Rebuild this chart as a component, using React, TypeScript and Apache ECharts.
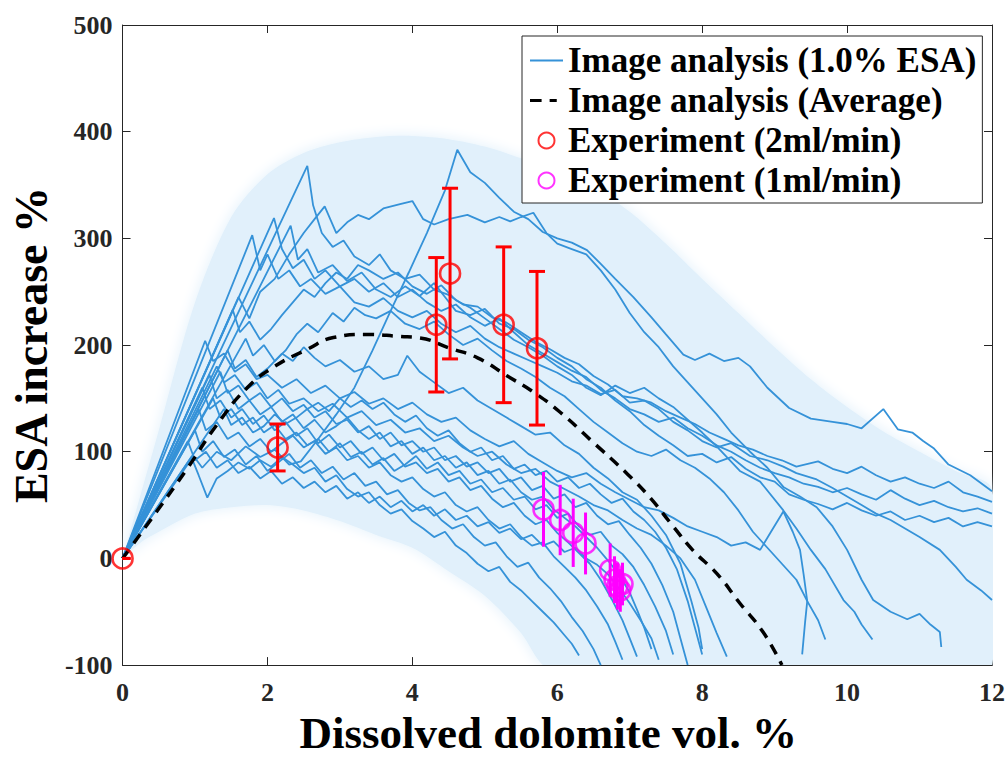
import React, { useEffect, useRef } from "react";
import * as echarts from "echarts";

const FONT = "'Liberation Serif', 'Times New Roman', serif";

// ---- Image analysis runs (1.0% ESA) : [dissolved vol %, ESA increase %]
const run01 = [[0,0],[0.98,96],[1.1,85],[1.3,100],[1.5,92],[1.7,105],[1.9,95],[2.1,102],[2.3,88],[2.46,91],[2.7,112],[2.95,135],[3.2,160],[3.45,195],[3.7,232],[3.95,268],[4.2,305],[4.45,345],[4.62,383],[4.8,362],[5.0,352],[5.2,338],[5.4,325],[5.6,318],[5.8,306],[6.0,300],[6.2,296],[6.41,289],[6.6,276],[6.8,262],[7.05,245],[7.3,226],[7.5,210],[7.74,191],[7.9,186],[8.1,192],[8.3,185],[8.5,188],[8.66,180],[8.9,160],[9.2,141],[9.5,131],[9.8,128],[10.0,126],[10.2,122],[10.5,140],[10.7,121],[10.9,118],[11.05,110],[11.2,103],[11.4,88],[11.7,78],[12.0,63]];
const run02 = [[0,0],[2.55,368],[2.63,331],[2.75,305],[2.9,292],[3.05,298],[3.2,283],[3.4,275],[3.55,285],[3.7,270],[3.9,262],[4.1,266],[4.3,252],[4.5,247],[4.7,238],[4.9,236],[5.1,226],[5.3,221],[5.5,212],[5.7,203],[5.9,196],[6.1,188],[6.3,182],[6.5,171],[6.7,163],[6.9,152],[7.1,150],[7.3,146],[7.5,138],[7.7,132],[7.9,126],[8.1,118],[8.3,112],[8.5,106],[8.7,102],[8.9,96],[9.1,92],[9.3,86],[9.6,91],[9.8,84],[10.0,80],[10.2,86],[10.4,78],[10.6,72],[10.8,76],[11.0,70],[11.2,66],[11.4,72],[11.6,62],[11.8,58],[12.0,53]];
const run03 = [[0,0],[2.09,319],[2.2,290],[2.35,272],[2.5,280],[2.65,262],[2.8,270],[3.0,255],[3.2,262],[3.4,250],[3.6,258],[3.8,245],[4.0,252],[4.2,240],[4.4,232],[4.6,238],[4.8,226],[5.0,218],[5.2,225],[5.4,212],[5.6,200],[5.8,192],[6.0,184],[6.2,176],[6.4,170],[6.6,158],[6.8,150],[7.0,140],[7.2,135],[7.4,128],[7.6,132],[7.8,122],[8.0,115],[8.2,106],[8.4,100],[8.6,92],[8.8,85],[9.0,80],[9.2,76],[9.4,70],[9.6,67],[9.8,62],[10.0,66],[10.2,60],[10.4,55],[10.6,64],[10.8,56],[11.0,50],[11.2,54],[11.4,48],[11.6,44],[11.8,47],[12.0,42]];
const run04 = [[0,0],[2.32,312],[2.42,280],[2.55,290],[2.7,268],[2.9,275],[3.1,260],[3.3,268],[3.5,252],[3.7,245],[3.9,255],[4.1,246],[4.3,258],[4.45,245],[4.6,232],[4.8,228],[5.0,234],[5.2,220],[5.4,215],[5.6,205],[5.8,198],[6.0,188],[6.2,180],[6.4,168],[6.6,160],[6.8,148],[7.0,138],[7.2,125],[7.4,115],[7.6,106],[7.8,96],[8.0,98],[8.2,90],[8.4,95],[8.6,84],[8.8,76],[9.0,72],[9.2,60],[9.4,55],[9.6,51],[9.8,46],[10.0,52],[10.2,45],[10.4,40],[10.6,44],[10.8,36],[11.0,40],[11.2,34],[11.4,38],[11.6,30],[11.8,34],[12.0,30]];
const run05 = [[0,0],[1.79,303],[1.9,270],[2.0,285],[2.15,262],[2.3,270],[2.45,255],[2.6,262],[2.8,248],[3.0,255],[3.2,240],[3.4,236],[3.6,244],[3.8,232],[4.0,226],[4.2,232],[4.4,220],[4.6,212],[4.8,218],[5.0,206],[5.2,198],[5.4,192],[5.6,186],[5.8,180],[6.0,174],[6.2,166],[6.4,162],[6.6,154],[6.8,158],[7.0,146],[7.2,148],[7.4,140],[7.6,128],[7.8,120],[8.0,110],[8.2,104],[8.4,108],[8.66,96],[8.9,92],[9.12,86],[9.3,80],[9.58,74],[9.8,66],[10.0,58],[10.2,50],[10.4,42],[10.6,36],[10.8,28],[11.0,20],[11.28,8],[11.5,-8],[11.65,-20],[11.85,-30],[12.0,-39]];
const run06 = [[0,0],[1.6,245],[1.75,225],[1.9,250],[2.1,262],[2.3,285],[2.5,305],[2.65,318],[2.79,330],[2.95,305],[3.1,315],[3.25,322],[3.4,318],[3.6,328],[3.83,332],[4.0,335],[4.15,318],[4.3,313],[4.5,318],[4.76,322],[5.0,315],[5.2,320],[5.35,316],[5.5,320],[5.67,324],[5.85,305],[6.0,295],[6.2,290],[6.4,285],[6.6,270],[6.8,252],[7.0,230],[7.2,212],[7.4,198],[7.6,180],[7.8,165],[8.0,150],[8.2,135],[8.4,118],[8.66,100],[8.9,85],[9.12,67],[9.35,58],[9.58,48],[9.8,30],[10.0,8],[10.2,-20],[10.36,-39],[10.6,-50],[10.83,-57],[11.0,-52],[11.15,-62],[11.28,-69],[11.3,-83]];
const run07 = [[0,0],[1.52,233],[1.62,212],[1.75,222],[1.9,205],[2.05,215],[2.2,228],[2.35,240],[2.5,252],[2.65,245],[2.8,258],[2.95,268],[3.1,262],[3.25,275],[3.4,270],[3.6,262],[3.8,268],[4.0,255],[4.2,248],[4.4,256],[4.6,242],[4.8,235],[5.0,225],[5.2,215],[5.4,205],[5.6,198],[5.8,190],[6.0,180],[6.2,172],[6.4,160],[6.6,153],[6.8,162],[7.0,155],[7.2,160],[7.4,150],[7.6,142],[7.8,130],[8.0,118],[8.2,105],[8.52,82],[8.8,72],[9.12,45],[9.3,28],[9.5,8],[9.7,-10],[9.95,-39],[10.1,-50],[10.2,-62],[10.35,-76]];
const run08 = [[0,0],[1.7,206],[1.8,190],[1.95,200],[2.1,185],[2.25,195],[2.4,210],[2.55,220],[2.7,212],[2.9,230],[3.05,222],[3.2,235],[3.35,228],[3.5,225],[3.7,232],[3.9,220],[4.1,215],[4.3,222],[4.5,210],[4.7,200],[4.9,206],[5.1,195],[5.3,185],[5.5,178],[5.7,170],[5.9,160],[6.1,152],[6.3,140],[6.5,128],[6.7,118],[6.9,108],[7.1,100],[7.3,96],[7.5,102],[7.7,92],[7.9,85],[8.1,75],[8.3,62],[8.5,45],[8.7,25],[8.9,10],[9.1,-5],[9.3,-20],[9.45,-40],[9.6,-58],[9.7,-76]];
const run09 = [[0,0],[1.14,204],[1.25,185],[1.4,192],[1.55,175],[1.7,182],[1.85,168],[2.0,172],[2.2,160],[2.4,168],[2.6,155],[2.8,162],[3.0,150],[3.2,156],[3.4,145],[3.6,150],[3.8,140],[4.0,146],[4.2,135],[4.4,128],[4.6,132],[4.8,120],[5.0,112],[5.2,105],[5.4,110],[5.6,98],[5.8,90],[6.0,82],[6.2,76],[6.4,80],[6.6,70],[6.8,62],[7.0,55],[7.2,48],[7.4,45],[7.6,38],[7.8,30],[8.0,25],[8.2,20],[8.4,12],[8.6,15],[8.8,8],[8.95,25],[9.12,44],[9.25,25],[9.35,8],[9.4,-15],[9.45,-40],[9.42,-60],[9.4,-75],[9.38,-90]];
const run10 = [[0,0],[1.3,180],[1.4,165],[1.55,172],[1.7,158],[1.85,165],[2.0,150],[2.15,158],[2.3,145],[2.5,150],[2.7,138],[2.9,145],[3.1,132],[3.3,138],[3.5,125],[3.7,130],[3.9,118],[4.1,122],[4.3,110],[4.5,115],[4.7,104],[4.9,96],[5.1,100],[5.3,88],[5.5,80],[5.7,84],[5.9,72],[6.1,65],[6.3,58],[6.5,50],[6.7,45],[6.9,36],[7.1,28],[7.3,22],[7.5,12],[7.7,0],[7.9,-20],[8.05,-45],[8.2,-70],[8.34,-92]];
const run11 = [[0,0],[1.45,195],[1.55,178],[1.7,186],[1.85,170],[2.0,178],[2.2,192],[2.35,185],[2.5,198],[2.65,188],[2.8,180],[3.0,186],[3.2,175],[3.4,180],[3.6,168],[3.8,172],[3.93,190],[4.1,175],[4.3,165],[4.5,155],[4.7,160],[4.9,148],[5.1,140],[5.3,132],[5.5,124],[5.7,116],[5.9,118],[6.1,106],[6.3,98],[6.5,85],[6.7,75],[6.9,62],[7.1,55],[7.3,40],[7.5,22],[7.7,-5],[7.85,-40],[7.95,-65],[8.0,-85]];
const run12 = [[0,0],[0.95,95],[1.05,78],[1.17,57],[1.3,75],[1.45,82],[1.6,90],[1.75,84],[1.9,92],[2.05,86],[2.2,95],[2.35,88],[2.5,80],[2.65,85],[2.8,72],[2.95,78],[3.1,65],[3.25,58],[3.4,62],[3.55,50],[3.7,42],[3.85,46],[4.0,35],[4.15,28],[4.3,20],[4.45,25],[4.6,12],[4.75,5],[4.9,-5],[5.05,-12],[5.2,-8],[5.35,-22],[5.5,-30],[5.65,-40],[5.8,-50],[5.95,-60],[6.1,-72],[6.2,-80],[6.3,-91]];
const run13 = [[0,0],[1.0,120],[1.1,100],[1.25,110],[1.4,95],[1.55,102],[1.7,88],[1.85,96],[2.0,82],[2.15,90],[2.3,98],[2.45,85],[2.6,92],[2.75,80],[2.9,86],[3.05,74],[3.2,80],[3.35,68],[3.5,72],[3.65,60],[3.8,64],[3.95,52],[4.1,45],[4.25,48],[4.4,36],[4.55,28],[4.7,32],[4.85,20],[5.0,12],[5.15,15],[5.3,2],[5.45,-8],[5.6,-4],[5.75,-18],[5.9,-28],[6.05,-40],[6.2,-55],[6.35,-68],[6.5,-85],[6.6,-100]];
const run14 = [[0,0],[1.05,140],[1.15,120],[1.3,128],[1.45,112],[1.6,118],[1.75,105],[1.9,112],[2.05,100],[2.2,108],[2.35,115],[2.5,104],[2.65,110],[2.8,98],[2.95,104],[3.1,92],[3.25,96],[3.4,85],[3.55,90],[3.7,78],[3.85,72],[4.0,76],[4.15,65],[4.3,58],[4.45,62],[4.6,50],[4.75,44],[4.9,48],[5.05,36],[5.2,28],[5.35,32],[5.5,20],[5.65,12],[5.8,15],[5.95,2],[6.1,-8],[6.25,-18],[6.4,-30],[6.55,-45],[6.7,-62],[6.8,-78],[6.9,-95]];
const run15 = [[0,0],[1.1,160],[1.2,140],[1.35,148],[1.5,132],[1.65,140],[1.8,126],[1.95,134],[2.1,120],[2.25,128],[2.4,115],[2.55,122],[2.7,108],[2.85,116],[3.0,104],[3.15,110],[3.3,98],[3.45,104],[3.6,92],[3.75,98],[3.9,86],[4.05,90],[4.2,80],[4.35,84],[4.5,72],[4.65,76],[4.8,64],[4.95,68],[5.1,56],[5.25,48],[5.4,52],[5.55,40],[5.7,32],[5.85,36],[6.0,24],[6.15,15],[6.3,5],[6.45,-5],[6.6,-20],[6.75,-38],[6.9,-58],[7.0,-75],[7.1,-92]];
const run16 = [[0,0],[1.2,172],[1.3,150],[1.45,158],[1.6,140],[1.75,148],[1.9,135],[2.05,142],[2.2,128],[2.35,135],[2.5,122],[2.65,130],[2.8,118],[2.95,124],[3.1,132],[3.25,120],[3.4,112],[3.55,118],[3.7,105],[3.85,110],[4.0,98],[4.15,104],[4.3,92],[4.45,96],[4.6,85],[4.75,90],[4.9,78],[5.05,82],[5.2,70],[5.35,74],[5.5,62],[5.65,55],[5.8,58],[5.95,46],[6.1,38],[6.25,30],[6.4,20],[6.55,10],[6.7,-2],[6.85,-15],[7.0,-32],[7.1,-48],[7.2,-65],[7.3,-85]];
const run17 = [[0,0],[1.25,150],[1.35,132],[1.5,140],[1.65,125],[1.8,132],[1.95,118],[2.1,125],[2.25,112],[2.4,118],[2.55,106],[2.7,112],[2.85,100],[3.0,108],[3.15,95],[3.3,100],[3.45,88],[3.6,94],[3.75,82],[3.9,88],[4.05,96],[4.2,84],[4.35,90],[4.5,78],[4.65,82],[4.8,70],[4.95,74],[5.1,62],[5.25,66],[5.4,55],[5.55,58],[5.7,46],[5.85,50],[6.0,38],[6.15,42],[6.3,30],[6.45,22],[6.6,25],[6.75,12],[6.9,4],[7.05,-8],[7.2,-25],[7.35,-45],[7.5,-68],[7.6,-90]];
const run18 = [[0,0],[1.35,175],[1.45,155],[1.6,162],[1.75,148],[1.9,155],[2.05,142],[2.2,150],[2.35,138],[2.5,144],[2.65,132],[2.8,138],[2.95,126],[3.1,130],[3.25,118],[3.4,124],[3.55,112],[3.7,118],[3.85,106],[4.0,110],[4.15,100],[4.3,104],[4.45,92],[4.6,96],[4.75,86],[4.9,90],[5.05,80],[5.2,84],[5.35,72],[5.5,76],[5.65,64],[5.8,68],[5.95,56],[6.1,60],[6.25,48],[6.4,52],[6.55,40],[6.7,32],[6.85,35],[7.0,22],[7.15,10],[7.3,-5],[7.45,-25],[7.6,-50],[7.7,-75],[7.8,-100]];
const run19 = [[0,0],[0.9,110],[1.0,92],[1.15,100],[1.3,85],[1.45,92],[1.6,80],[1.75,86],[1.9,75],[2.05,82],[2.2,70],[2.35,76],[2.5,66],[2.65,72],[2.8,62],[2.95,68],[3.1,56],[3.25,62],[3.4,52],[3.55,58],[3.7,48],[3.85,54],[4.0,44],[4.15,50],[4.3,40],[4.45,46],[4.6,36],[4.75,40],[4.9,30],[5.05,34],[5.2,24],[5.35,28],[5.5,18],[5.65,22],[5.8,12],[5.95,16],[6.1,6],[6.25,10],[6.4,0],[6.55,-6],[6.7,-15],[6.85,-28],[7.0,-42],[7.15,-58],[7.3,-75],[7.4,-95]];
const run20 = [[0,0],[1.4,140],[1.5,125],[1.65,132],[1.8,118],[1.95,124],[2.1,135],[2.25,126],[2.4,132],[2.55,140],[2.7,146],[2.85,138],[3.0,150],[3.15,142],[3.3,148],[3.45,140],[3.6,146],[3.75,135],[3.9,128],[4.05,134],[4.2,122],[4.35,115],[4.5,120],[4.65,108],[4.8,100],[4.95,104],[5.1,92],[5.25,96],[5.4,84],[5.55,88],[5.7,78],[5.85,82],[6.0,72],[6.15,76],[6.3,66],[6.45,70],[6.6,60],[6.75,52],[6.9,56],[7.05,44],[7.2,36],[7.35,25],[7.5,10],[7.65,-10],[7.8,-40],[7.9,-65],[8.0,-90]];
const imageRuns = [run01,run02,run03,run04,run05,run06,run07,run08,run09,run10,run11,run12,run13,run14,run15,run16,run17,run18,run19,run20];

// ---- Average of image analysis
const avgX = [0,0.45,0.9,1.3,1.72,2.1,2.55,2.91,3.38,3.83,4.07,4.52,4.9,5.31,5.67,6.04,6.46,6.97,7.28,7.6,7.88,8.2,8.52,8.84,9.1];
const avgY = [0,42,85,125,160,180,196,207,210,208,207,197,188,171,156,137,111,79,57,30,7,-14,-42,-69,-100];

// ---- Spread band of image analysis
const bandX = [0,0.25,0.5,1.0,1.5,2.0,2.5,3.0,3.5,4.0,4.5,5.0,5.5,5.8,6.0,6.5,7.0,7.5,8.0,8.5,9.0,9.5,10.0,10.5,11.0,11.5,12.0];
const bandUpper = [0,60,120,240,320,360,380,390,395,396,393,386,375,368,362,348,325,295,262,230,198,168,142,119,100,82,65];
const bandLower = [0,15,25,42,48,50,45,35,22,10,-12,-35,-70,-100,-100,-100,-100,-100,-100,-100,-100,-100,-100,-100,-100,-100,-100];

// ---- Experiments
const exp2X = [0,2.14,4.33,4.52,5.26,5.72];
const exp2Y = [0,104,219,267,219,197];
const exp2Err = [0,22,63,80,73,72];
const exp1X = [5.81,6.04,6.22,6.39,6.73,6.79,6.83,6.87,6.9];
const exp1Y = [46,36,24,14,-11,-20,-26,-30,-24];
const exp1Err = [35,33,32,29,25,22,22,20,20];

const legendNames = ["Image analysis (1.0% ESA)", "Image analysis (Average)", "Experiment (2ml/min)", "Experiment (1ml/min)"];

const BLUE = "#3592d8";
const AXIS = "#262626";

function errorBarSeries(name: string, xs: number[], ys: number[], es: number[], color: string, cap: number) {
  return {
    name,
    type: "custom",
    z: 4,
    silent: true,
    clip: true,
    data: xs.map((x, i) => [x, ys[i] - es[i], ys[i] + es[i]]),
    renderItem: (params: any, api: any) => {
      const x = api.value(0);
      const lo = api.coord([x, api.value(1)]);
      const hi = api.coord([x, api.value(2)]);
      const st = { stroke: color, lineWidth: 3 };
      const children: any[] = [
        { type: "line", shape: { x1: lo[0], y1: lo[1], x2: hi[0], y2: hi[1] }, style: st },
      ];
      if (cap > 0) {
        children.push({ type: "line", shape: { x1: lo[0] - cap, y1: lo[1], x2: lo[0] + cap, y2: lo[1] }, style: st });
        children.push({ type: "line", shape: { x1: hi[0] - cap, y1: hi[1], x2: hi[0] + cap, y2: hi[1] }, style: st });
      }
      return { type: "group", children };
    },
  };
}

export default function App() {
  const ref = useRef<HTMLDivElement>(null);
  useEffect(() => {
    const chart = echarts.init(ref.current as HTMLDivElement, null, { renderer: "svg" });
    const axisCommon = {
      type: "value",
      splitLine: { show: false },
      axisLine: { show: true, onZero: false, lineStyle: { color: AXIS, width: 1 } },
      axisTick: { show: true, inside: true, length: 8, lineStyle: { color: AXIS, width: 1 } },
    };
    const labelStyle = { fontSize: 26, fontWeight: "bold", color: AXIS, fontFamily: FONT };
    const series: any[] = [];
    series.push({
      name: "band",
      type: "custom",
      z: 1,
      silent: true,
      clip: true,
      data: [[0, 0]],
      renderItem: (params: any, api: any) => {
        const pts: number[][] = [];
        bandX.forEach((x, i) => pts.push(api.coord([x, bandUpper[i]])));
        for (let i = bandX.length - 1; i >= 0; i--) pts.push(api.coord([bandX[i], bandLower[i]]));
        return {
          type: "polygon",
          shape: { points: pts, smooth: 0.3 },
          style: { fill: "#e1f0fb", shadowBlur: 14, shadowColor: "#e1f0fb" },
        };
      },
    });
    imageRuns.forEach((run) => {
      series.push({
        name: legendNames[0],
        type: "line",
        data: run,
        symbol: "none",
        z: 2,
        silent: true,
        lineStyle: { color: BLUE, width: 1.8 },
        itemStyle: { color: BLUE },
      });
    });
    series.push({
      name: legendNames[1],
      type: "line",
      data: avgX.map((x, i) => [x, avgY[i]]),
      symbol: "none",
      smooth: true,
      z: 3,
      silent: true,
      lineStyle: { color: "#000", width: 3.5, type: [11, 8] },
      itemStyle: { color: "#000" },
    });
    series.push(errorBarSeries("err2", exp2X, exp2Y, exp2Err, "#ff0000", 8));
    series.push(errorBarSeries("err1", exp1X, exp1Y, exp1Err, "#ff00ff", 0));
    series.push({
      name: legendNames[2],
      type: "scatter",
      data: exp2X.map((x, i) => [x, exp2Y[i]]),
      symbol: "circle",
      symbolSize: 20,
      z: 5,
      silent: true,
      itemStyle: { color: "rgba(0,0,0,0)", borderColor: "#ff0000", borderWidth: 2.6 },
    });
    series.push({
      name: legendNames[3],
      type: "scatter",
      data: exp1X.map((x, i) => [x, exp1Y[i]]),
      symbol: "circle",
      symbolSize: 20,
      z: 5,
      silent: true,
      itemStyle: { color: "rgba(0,0,0,0)", borderColor: "#ff00ff", borderWidth: 2.6 },
    });

    chart.setOption({
      animation: false,
      backgroundColor: "#ffffff",
      textStyle: { fontFamily: FONT },
      grid: { left: 122, right: 16, top: 25, bottom: 87 },
      legend: {
        show: true,
        orient: "vertical",
        left: 522,
        top: 36,
        z: 10,
        itemWidth: 33,
        itemHeight: 16,
        itemGap: 5,
        padding: [7, 6, 5, 8],
        backgroundColor: "#ffffff",
        borderColor: AXIS,
        borderWidth: 1,
        selectedMode: false,
        textStyle: { fontSize: 35, fontWeight: "bold", color: "#000", fontFamily: FONT, lineHeight: 35 },
        data: [
          { name: legendNames[0], icon: "path://M0,0 L37,0 L37,2 L0,2 Z" },
          { name: legendNames[1], icon: "path://M0,0 L13,0 L13,3.4 L0,3.4 Z M22,0 L30,0 L30,3.4 L22,3.4 Z M37,0 L37,3.4 Z" },
          { name: legendNames[2] },
          { name: legendNames[3] },
        ],
      },
      xAxis: [
        {
          ...axisCommon,
          position: "bottom",
          min: 0,
          max: 12,
          interval: 2,
          axisLabel: { ...labelStyle, margin: 14 },
          name: "Dissolved dolomite vol. %",
          nameLocation: "middle",
          nameGap: 44,
          nameTextStyle: { fontSize: 45, fontWeight: "bold", color: "#000", fontFamily: FONT, padding: [0, 18, 0, 0] },
        },
        { ...axisCommon, position: "top", min: 0, max: 12, interval: 2, axisLabel: { show: false } },
      ],
      yAxis: [
        {
          ...axisCommon,
          position: "left",
          min: -100,
          max: 500,
          interval: 100,
          axisLabel: { ...labelStyle, margin: 10 },
          name: "ESA increase %",
          nameLocation: "middle",
          nameGap: 61,
          nameRotate: 90,
          nameTextStyle: { fontSize: 46, fontWeight: "bold", color: "#000", fontFamily: FONT },
        },
        { ...axisCommon, position: "right", min: -100, max: 500, interval: 100, axisLabel: { show: false } },
      ],
      series,
    });
    return () => chart.dispose();
  }, []);
  return (
    <div
      ref={ref}
      style={{ position: "fixed", left: 0, top: 0, width: 1008, height: 760, background: "#fff" }}
    />
  );
}
